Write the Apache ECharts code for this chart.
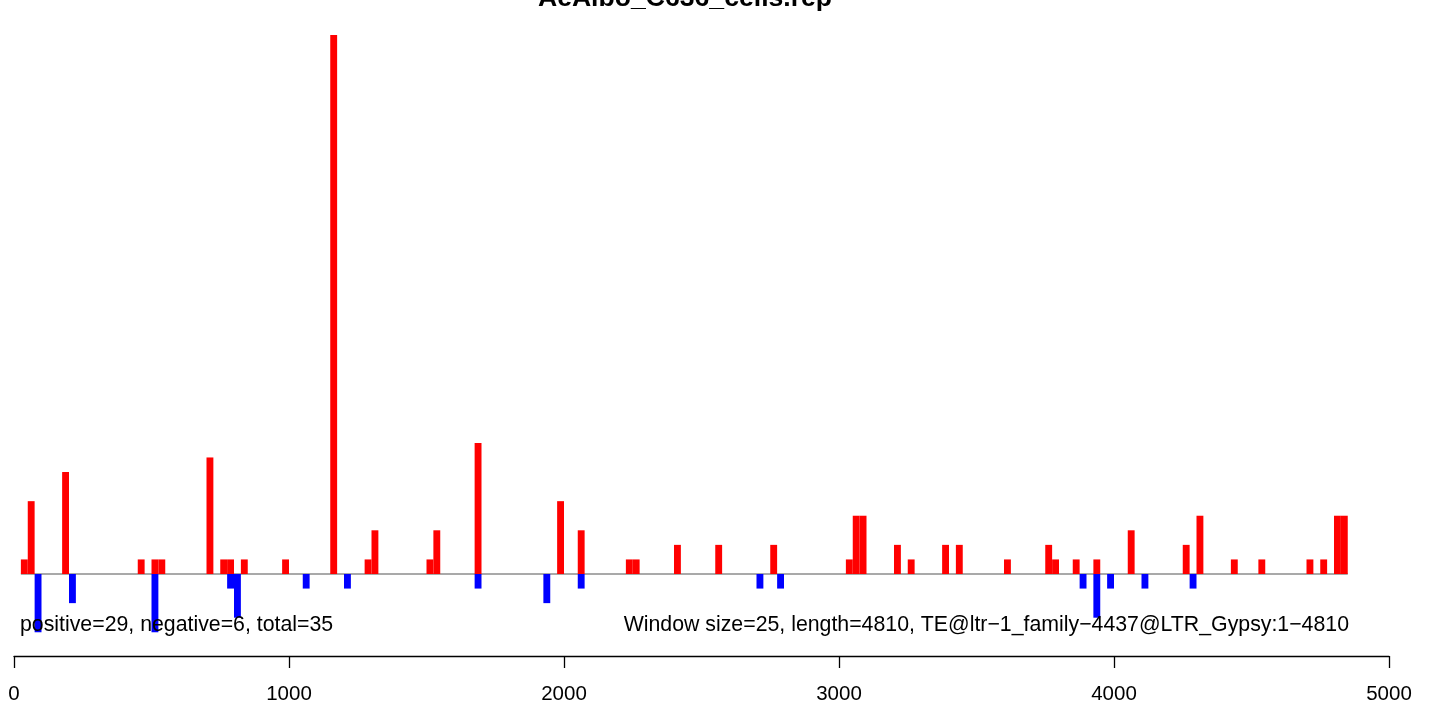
<!DOCTYPE html>
<html>
<head>
<meta charset="utf-8">
<script src="https://cdn.jsdelivr.net/npm/echarts@6/dist/echarts.min.js"></script>
<style>
html,body{margin:0;padding:0;background:#fff;}
#chart{width:1429px;height:707px;}
</style>
</head>
<body>
<div id="chart"></div>
<script>
// Window size (bp)
const windowSize = 25;
// Positive (red) windows: start positions and counts
const posStarts = [25,50,175,450,500,525,700,750,775,825,975,1150,1275,1300,1500,1525,1675,1975,2050,2225,2250,2400,2550,2750,3025,3050,3075,3200,3250,3375,3425,3600,3750,3775,3850,3925,4050,4250,4300,4425,4525,4700,4750,4800,4825];
const posCounts = [1,5,7,1,1,1,8,1,1,1,1,37,1,3,1,3,9,5,3,1,1,2,2,2,1,4,4,2,1,2,2,1,2,1,1,1,3,2,4,1,1,1,1,4,4];
// Negative (blue) windows: start positions and counts
const negStarts = [75,200,500,775,800,1050,1200,1675,1925,2050,2700,2775,3875,3925,3975,4100,4275];
const negCounts = [4,2,4,1,3,1,1,1,2,1,1,1,1,3,1,1,1];
// Baseline extent
const baselineRange = [25, 4850];
// X-axis ticks
const xTicks = [0,1000,2000,3000,4000,5000];
const titleText = 'AeAlbo_C636_cells.rep';
const leftNote = 'positive=29, negative=6, total=35';
const rightNote = 'Window size=25, length=4810, TE@ltr\u22121_family\u22124437@LTR_Gypsy:1\u22124810';

const FONT = '"Liberation Sans", Arial, Helvetica, sans-serif';

const posData = posStarts.map((s, i) => [s, posCounts[i]]);
const negData = negStarts.map((s, i) => [s, -negCounts[i]]);

function rectRender(params, api) {
  const s = api.value(0);
  const v = api.value(1);
  const p0 = api.coord([s, 0]);
  const p1 = api.coord([s + windowSize, v]);
  const x = Math.min(p0[0], p1[0]);
  const y = Math.min(p0[1], p1[1]);
  return {
    type: 'rect',
    shape: { x: x, y: y, width: Math.abs(p1[0] - p0[0]), height: Math.abs(p1[1] - p0[1]) },
    style: { fill: api.visual('color') }
  };
}

const chart = echarts.init(document.getElementById('chart'), null, { renderer: 'canvas' });
const gridTop = 35, gridBottomPx = 656, zeroPx = 574;
const unit = (zeroPx - gridTop) / 37;
const yMin = -(gridBottomPx - zeroPx) / unit;

chart.setOption({
  animation: false,
  backgroundColor: '#ffffff',
  grid: { left: 14, right: 40, top: gridTop, bottom: 707 - gridBottomPx, containLabel: false },
  xAxis: {
    type: 'value', min: xTicks[0], max: xTicks[xTicks.length - 1], interval: 1000,
    axisLine: { show: true, onZero: false, lineStyle: { color: '#000', width: 1.3 } },
    axisTick: { show: true, length: 12, lineStyle: { color: '#000', width: 1.3 } },
    axisLabel: { color: '#000', fontSize: 20.5, fontFamily: FONT, margin: 28, formatter: v => String(v) },
    splitLine: { show: false }
  },
  yAxis: { type: 'value', min: yMin, max: 37, show: false, splitLine: { show: false } },
  series: [
    {
      type: 'line', data: [[baselineRange[0], 0], [baselineRange[1], 0]],
      symbol: 'none', lineStyle: { color: '#8c8c8c', width: 1.5 }, z: 1, silent: true
    },
    { type: 'custom', renderItem: rectRender, data: posData, itemStyle: { color: '#ff0000' }, z: 2 },
    { type: 'custom', renderItem: rectRender, data: negData, itemStyle: { color: '#0000ff' }, z: 2 }
  ],
  graphic: [
    { type: 'text', x: 685, y: -1, style: { text: titleText, font: 'bold 26.6px ' + FONT, fill: '#000', textAlign: 'center', textVerticalAlign: 'middle' } },
    { type: 'text', x: 20, y: 625, z: 10, style: { text: leftNote, font: '21.3px ' + FONT, fill: '#000', textAlign: 'left', textVerticalAlign: 'middle' } },
    { type: 'text', x: 1349, y: 625, z: 10, style: { text: rightNote, font: '21.3px ' + FONT, fill: '#000', textAlign: 'right', textVerticalAlign: 'middle' } }
  ]
});
</script>
</body>
</html>
